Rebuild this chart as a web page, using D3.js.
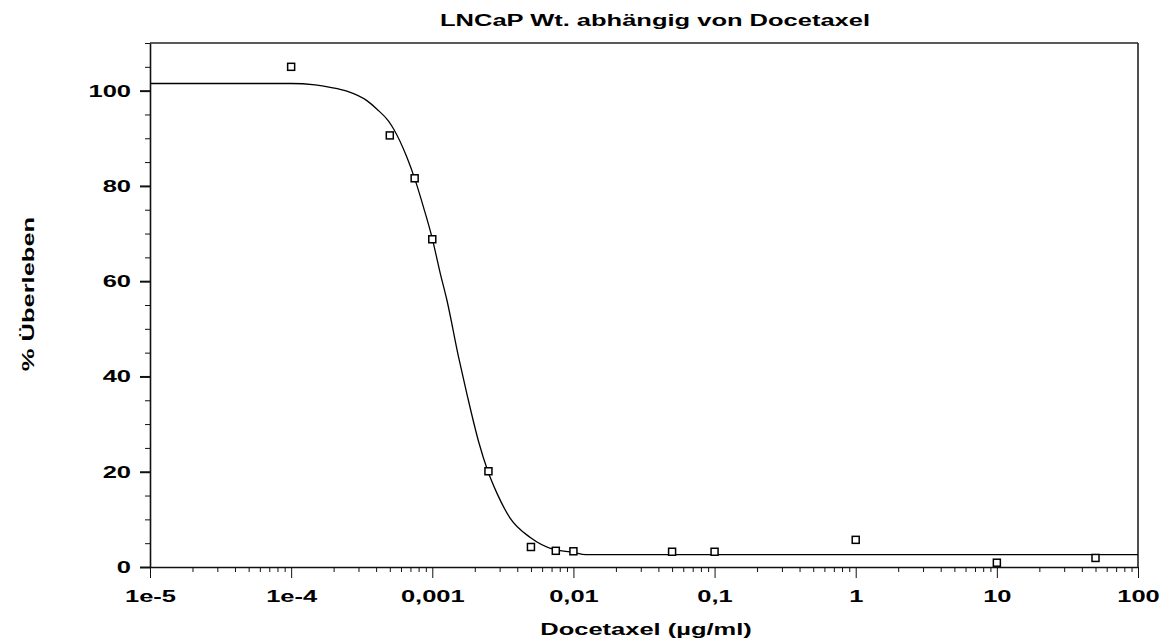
<!DOCTYPE html>
<html><head><meta charset="utf-8">
<script src="https://cdn.jsdelivr.net/npm/d3@7"></script>
<style>
html,body{margin:0;padding:0;background:#fff;}
svg text{font-family:"Liberation Sans",Arial,sans-serif;font-weight:bold;font-size:17px;fill:#000;}
</style></head><body>
<svg id="chart" width="1164" height="644"></svg>
<script>
// ---- data ----
const titleText = "LNCaP Wt. abhängig von Docetaxel";
const xLabel = "Docetaxel (µg/ml)";
const yLabel = "% Überleben";
const concentrations = [1e-4, 5e-4, 7.5e-4, 1e-3, 2.5e-3, 5e-3, 7.5e-3, 1e-2, 5e-2, 0.1, 1, 10, 50];
const survival = [105, 90.6, 81.6, 68.8, 20.1, 4.2, 3.4, 3.3, 3.2, 3.2, 5.7, 0.9, 1.9];
const fitX = [1e-5, 1e-4, 1.48e-4, 1.89e-4, 2.48e-4, 3.44e-4, 4.06e-4, 4.9e-4, 5.31e-4, 6.61e-4, 7.59e-4, 8.67e-4, 9.95e-4, 1.14e-3, 1.27e-3, 1.54e-3, 1.76e-3, 2.13e-3, 2.47e-3, 2.88e-3, 3.57e-3, 4.95e-3, 7.24e-3, 1e-2, 1.22e-2, 100];
const fitY = [101.5, 101.5, 101.2, 100.7, 99.9, 97.9, 96.1, 93.6, 92.0, 86.0, 81.1, 75.5, 69.2, 61.6, 56.0, 43.9, 36.3, 26.3, 20.2, 15.4, 10.2, 6.2, 3.7, 3.1, 2.6, 2.6];
const xTickValues = [1e-5, 1e-4, 1e-3, 1e-2, 0.1, 1, 10, 100];
const xTickLabels = ["1e-5", "1e-4", "0,001", "0,01", "0,1", "1", "10", "100"];
const yTickValues = [0, 20, 40, 60, 80, 100];
const yTickLabels = ["0", "20", "40", "60", "80", "100"];
const xDomain = [1e-5, 100];
const yDomain = [0, 110];

// ---- layout ----
const L = 150, R = 1138, T = 43, B = 567;
const STRETCH = 1.5;
const svg = d3.select("#chart");
const x = d3.scaleLog().domain(xDomain).range([L, R]);
const y = d3.scaleLinear().domain(yDomain).range([B, T]);

const xMinor = [];
for (let d = -5; d < 2; d++) for (let k = 2; k <= 9; k++) xMinor.push(k * Math.pow(10, d));
const yMinor = d3.range(5, 111, 5).filter(v => v % 20 !== 0);

// minor ticks
svg.append("g").attr("transform", `translate(0,${B})`)
  .call(d3.axisBottom(x).tickValues(xMinor).tickSize(5).tickSizeOuter(0).tickFormat(""))
  .call(g => g.select(".domain").remove());
svg.append("g").attr("transform", `translate(${L},0)`)
  .call(d3.axisLeft(y).tickValues(yMinor).tickSize(5).tickSizeOuter(0).tickFormat(""))
  .call(g => g.select(".domain").remove());

// major axes
const gx = svg.append("g").attr("transform", `translate(0,${B})`)
  .call(d3.axisBottom(x).tickValues(xTickValues).tickSize(11).tickSizeOuter(0).tickPadding(12)
    .tickFormat((d, i) => xTickLabels[i]));
gx.selectAll("text").attr("transform", `scale(${STRETCH},1)`).attr("x", 0);
const gy = svg.append("g").attr("transform", `translate(${L},0)`)
  .call(d3.axisLeft(y).tickValues(yTickValues).tickSize(10).tickSizeOuter(0)
    .tickFormat((d, i) => yTickLabels[i]));
gy.selectAll("text").attr("transform", `scale(${STRETCH},1)`).attr("x", -19 / STRETCH);
gy.selectAll(".tick line").attr("stroke-width", 2);

svg.selectAll(".domain, .tick line").attr("stroke", "#111");
svg.selectAll(".domain").attr("stroke-width", 1.6);
svg.selectAll(".tick text").attr("font-size", null).attr("font-family", null);

// frame top and right
svg.append("line").attr("x1", L).attr("x2", R).attr("y1", T).attr("y2", T)
  .attr("stroke", "#222").attr("stroke-width", 1.6);
svg.append("line").attr("x1", R).attr("x2", R).attr("y1", T).attr("y2", B)
  .attr("stroke", "#222").attr("stroke-width", 1.6);

// fitted curve
const fitData = fitX.map((v, i) => [v, fitY[i]]);
svg.append("path").datum(fitData)
  .attr("fill", "none").attr("stroke", "#000").attr("stroke-width", 1.3)
  .attr("d", d3.line().x(d => x(d[0])).y(d => y(d[1])).curve(d3.curveMonotoneX));

// data points
const pts = concentrations.map((c, i) => [c, survival[i]]);
const S = 7;
svg.append("g").selectAll("rect").data(pts).join("rect")
  .attr("x", d => x(d[0]) - S / 2).attr("y", d => y(d[1]) - S / 2)
  .attr("width", S).attr("height", S)
  .attr("fill", "#fff").attr("stroke", "#000").attr("stroke-width", 1.5);

// titles
svg.append("text").attr("transform", `translate(655,26) scale(${STRETCH},1)`)
  .attr("text-anchor", "middle").text(titleText);
svg.append("text").attr("transform", `translate(646,635) scale(${STRETCH},1)`)
  .attr("text-anchor", "middle").text(xLabel);
svg.append("text").attr("transform", `translate(34,294) rotate(-90) scale(${STRETCH},1)`)
  .attr("text-anchor", "middle").text(yLabel);
</script>
</body></html>
